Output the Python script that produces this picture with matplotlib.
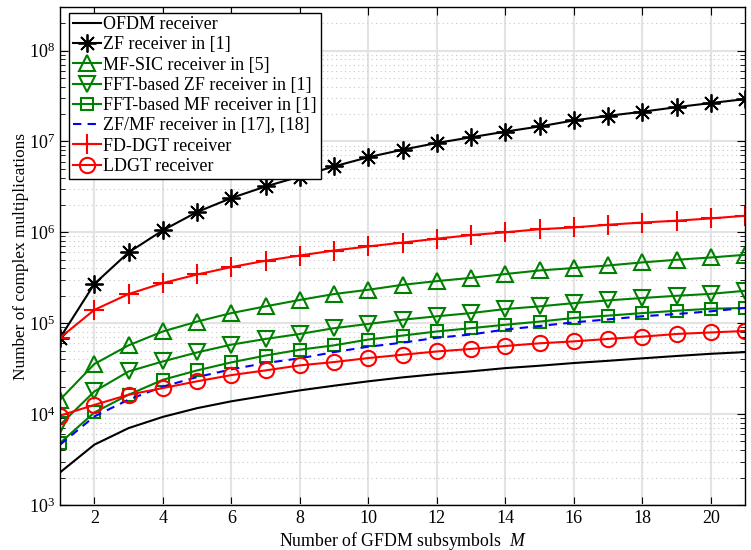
import numpy as np
import matplotlib

matplotlib.use("Agg")
import matplotlib.pyplot as plt
from matplotlib.ticker import LogLocator, MultipleLocator, NullFormatter

plt.rcParams["font.family"] = ["Liberation Serif", "DejaVu Serif"]
plt.rcParams["mathtext.fontset"] = "custom"
plt.rcParams["mathtext.rm"] = "Liberation Serif"
plt.rcParams["mathtext.it"] = "Liberation Serif:italic"

# Number of GFDM subsymbols M
subsymbols = list(range(1, 22))

# Complex multiplications
ofdm = [2.28e3, 4.6e3, 7.0e3, 9.3e3, 1.16e4, 1.38e4, 1.59e4, 1.82e4, 2.05e4, 2.29e4,
        2.53e4, 2.75e4, 2.95e4, 3.2e4, 3.4e4, 3.64e4, 3.85e4, 4.1e4, 4.35e4, 4.6e4, 4.8e4]
zf = [6.9e4, 2.7e5, 6.0e5, 1.05e6, 1.67e6, 2.38e6, 3.19e6, 4.1e6, 5.3e6, 6.7e6,
      8.1e6, 9.6e6, 1.11e7, 1.28e7, 1.46e7, 1.70e7, 1.91e7, 2.12e7, 2.38e7, 2.64e7, 2.92e7]
mf_sic = [1.44e4, 3.55e4, 5.7e4, 8.1e4, 1.04e5, 1.29e5, 1.53e5, 1.8e5, 2.09e5, 2.33e5,
          2.64e5, 2.9e5, 3.15e5, 3.47e5, 3.8e5, 4.04e5, 4.31e5, 4.66e5, 4.98e5, 5.28e5, 5.65e5]
fft_zf = [7.6e3, 1.77e4, 2.94e4, 3.79e4, 4.76e4, 5.8e4, 6.7e4, 7.6e4, 8.8e4, 9.8e4,
          1.09e5, 1.19e5, 1.29e5, 1.43e5, 1.53e5, 1.66e5, 1.78e5, 1.89e5, 2.0e5, 2.1e5, 2.27e5]
fft_mf = [4.8e3, 1.04e4, 1.63e4, 2.38e4, 3.02e4, 3.7e4, 4.4e4, 5.1e4, 5.7e4, 6.6e4,
          7.3e4, 8.1e4, 8.8e4, 9.6e4, 1.04e5, 1.14e5, 1.21e5, 1.29e5, 1.37e5, 1.44e5, 1.47e5]
zf_mf = [4.6e3, 9.4e3, 1.44e4, 2.0e4, 2.55e4, 3.1e4, 3.64e4, 4.1e4, 4.8e4, 5.5e4,
         6.1e4, 6.9e4, 7.5e4, 8.5e4, 9.3e4, 1.02e5, 1.1e5, 1.19e5, 1.26e5, 1.35e5, 1.47e5]
fd_dgt = [6.9e4, 1.4e5, 2.09e5, 2.76e5, 3.43e5, 4.14e5, 4.86e5, 5.55e5, 6.3e5, 6.98e5,
          7.7e5, 8.5e5, 9.3e5, 1.0e6, 1.08e6, 1.13e6, 1.21e6, 1.28e6, 1.34e6, 1.42e6, 1.52e6]
ldgt = [9.6e3, 1.26e4, 1.63e4, 1.93e4, 2.29e4, 2.68e4, 3.02e4, 3.43e4, 3.73e4, 4.13e4,
        4.49e4, 4.88e4, 5.2e4, 5.6e4, 6.0e4, 6.3e4, 6.7e4, 7.1e4, 7.6e4, 7.9e4, 8.2e4]

green = "#008000"

fig = plt.figure(figsize=(7.51, 5.5), dpi=100)
ax = fig.add_axes([0.080, 0.082, 0.912, 0.905])

lw = 1.5
ax.plot(subsymbols, ofdm, color="black", linewidth=lw, label="OFDM receiver")
ax.plot(subsymbols, zf, color="black", linewidth=lw, marker=(8, 2, 0), markersize=13,
        markeredgewidth=1.3, label="ZF receiver in [1]")
ax.plot(subsymbols, mf_sic, color=green, linewidth=lw, marker="^", markersize=12,
        markerfacecolor="none", markeredgewidth=1.5, label="MF-SIC receiver in [5]")
ax.plot(subsymbols, fft_zf, color=green, linewidth=lw, marker="v", markersize=12,
        markerfacecolor="none", markeredgewidth=1.5, label="FFT-based ZF receiver in [1]")
ax.plot(subsymbols, fft_mf, color=green, linewidth=lw, marker="s", markersize=9,
        markerfacecolor="none", markeredgewidth=1.5, label="FFT-based MF receiver in [1]")
ax.plot(subsymbols, zf_mf, color="blue", linewidth=lw, linestyle=(0, (4, 3)),
        label="ZF/MF receiver in [17], [18]")
ax.plot(subsymbols, fd_dgt, color="red", linewidth=lw, marker="+", markersize=15,
        markeredgewidth=1.5, label="FD-DGT receiver")
ax.plot(subsymbols, ldgt, color="red", linewidth=lw, marker="o", markersize=11,
        markerfacecolor="none", markeredgewidth=1.5, label="LDGT receiver")

ax.set_yscale("log")
ax.set_xlim(1, 21)
ax.set_ylim(1e3, 3e8)
ax.xaxis.set_major_locator(MultipleLocator(2))
ax.yaxis.set_major_locator(LogLocator(base=10, numticks=12))
ax.yaxis.set_minor_locator(LogLocator(base=10, subs=np.arange(2, 10), numticks=12))
ax.yaxis.set_minor_formatter(NullFormatter())

ax.grid(True, which="major", color="#e3e3e3", linewidth=1.5, linestyle="-")
ax.grid(True, which="minor", axis="y", color="#c8c8c8", linewidth=0.8, linestyle=(0, (1, 3)))
ax.set_axisbelow(True)

ax.tick_params(which="both", direction="in", top=True, right=True, labelsize=13)
ax.tick_params(which="major", length=6)
ax.tick_params(which="minor", length=3.5)
for s in ax.spines.values():
    s.set_linewidth(1.0)

ax.set_xlabel(r"Number of GFDM subsymbols  $\mathit{M}$", fontsize=12.8, labelpad=2)
ax.set_ylabel("Number of complex multiplications", fontsize=12.4, labelpad=0)

leg = ax.legend(loc="upper left", bbox_to_anchor=(0.013, 0.989), borderaxespad=0,
                fontsize=13, handlelength=1.6, labelspacing=0.18,
                handletextpad=0.1, borderpad=0.2, fancybox=False,
                framealpha=1, edgecolor="black")
leg.get_frame().set_linewidth(1.0)

fig.savefig("out.png", dpi=100)
